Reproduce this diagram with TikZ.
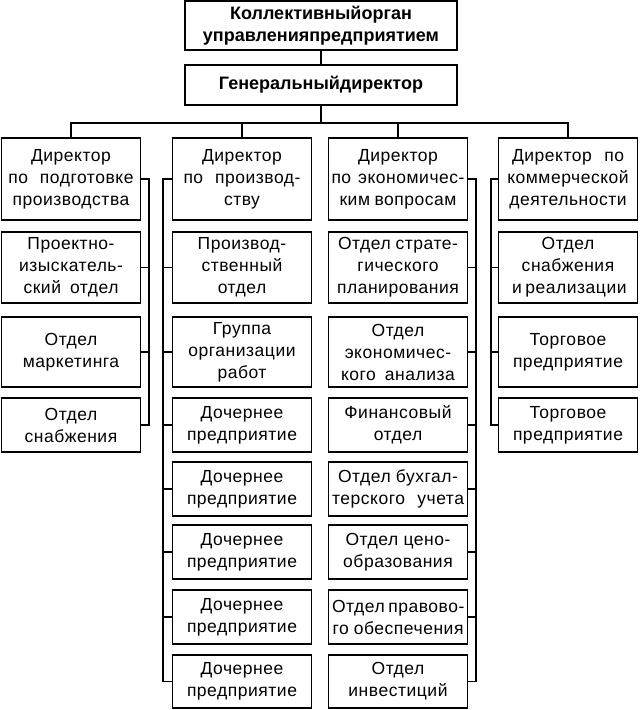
\documentclass[tikz,border=0pt]{standalone}
\usepackage{fontspec}
\setmainfont{Liberation Sans}
\newfontfamily\boxfont[LetterSpace=3]{Liberation Sans}
\usetikzlibrary{positioning,calc}

% stretched line, as in the justified boxes
\newcommand{\jline}[2][120pt]{\makebox[#1][s]{#2}}

\begin{document}
\begin{tikzpicture}[
        x=1pt, y=-1pt,
        font=\boxfont\fontsize{17.5}{22}\selectfont,
        box/.style={draw, rectangle, line width=1.6pt, minimum width=139pt, align=center, inner sep=1pt},
        headbox/.style={box, minimum width=272pt, font=\normalfont\fontsize{18}{22.5}\selectfont\bfseries},
        link/.style={line width=1.6pt, line cap=rect}
    ]
    \useasboundingbox (0,0) rectangle (640,710);

    % Top
    \node[headbox, minimum height=49pt] (board) at (321,25.5) {Коллективныйорган\\управленияпредприятием};
    \node[headbox, minimum height=40pt] (gendir) at (321,85) {Генеральныйдиректор};
    \coordinate (bus) at (0,123);

    % Directors
    \node[box, minimum height=82pt] (dpod) at (71,179) {Директор\\\jline[125pt]{по подготовке}\\производства};
    \node[box, minimum height=82pt] (dprz) at (242,179) {Директор\\\jline[117pt]{по производ-}\\ству};
    \node[box, minimum height=82pt] (deko) at (398,179) {Директор\\\jline[133pt]{по экономичес-}\\\jline[117pt]{ким вопросам}};
    \node[box, minimum height=82pt] (dcom) at (568,179) {\jline[112pt]{Директор по}\\коммерческой\\деятельности};

    % Column 1
    \node[box, minimum height=71pt] (proekt) at (71,267.5) {Проектно-\\изыскатель-\\\jline[95pt]{ский отдел}};
    \node[box, minimum height=70pt] (market) at (71,352) {Отдел\\маркетинга};
    \node[box, minimum height=54pt] (snabA) at (71,425) {Отдел\\снабжения};

    % Column 2
    \node[box, minimum height=71pt] (prodotd) at (242,267.5) {Производ-\\ственный\\отдел};
    \node[box, minimum height=70pt] (gruppa) at (242,352) {Группа\\организации\\работ};
    \node[box, minimum height=54pt] (dochA) at (242,425) {Дочернее\\предприятие};
    \node[box, minimum height=54pt] (dochB) at (242,489) {Дочернее\\предприятие};
    \node[box, minimum height=54pt] (dochC) at (242,552) {Дочернее\\предприятие};
    \node[box, minimum height=54pt] (dochD) at (242,617) {Дочернее\\предприятие};
    \node[box, minimum height=53pt] (dochE) at (242,681.5) {Дочернее\\предприятие};

    % Column 3
    \node[box, minimum height=71pt] (strat) at (398,267.5) {\jline[120pt]{Отдел страте-}\\гического\\планирования};
    \node[box, minimum height=70pt] (ekan) at (398,352) {Отдел\\экономичес-\\\jline[114pt]{кого анализа}};
    \node[box, minimum height=54pt] (finans) at (398,425) {Финансовый\\отдел};
    \node[box, minimum height=54pt] (buhg) at (398,489) {\jline[120pt]{Отдел бухгал-}\\\jline[132pt]{терского учета}};
    \node[box, minimum height=54pt] (ceno) at (398,552) {Отдел цено-\\образования};
    \node[box, minimum height=54pt] (pravo) at (398,617) {\jline[132pt]{Отдел правово-}\\\jline[131pt]{го обеспечения}};
    \node[box, minimum height=53pt] (invest) at (398,681.5) {Отдел\\инвестиций};

    % Column 4
    \node[box, minimum height=71pt] (snabreal) at (568,267.5) {Отдел\\снабжения\\\jline[112pt]{и реализации}};
    \node[box, minimum height=70pt] (torgA) at (568,352) {Торговое\\предприятие};
    \node[box, minimum height=54pt] (torgB) at (568,425) {Торговое\\предприятие};

    % Side buses
    \coordinate (busA) at (149,0);
    \coordinate (busB) at (163,0);
    \coordinate (busC) at (476,0);
    \coordinate (busD) at (491,0);

    % Top connections
    \draw[link] (board) -- (gendir);
    \draw[link] (gendir.south) -- (gendir.south |- bus);
    \draw[link] (dpod.north |- bus) -- (dcom.north |- bus);
    \foreach \d in {dpod,dprz,deko,dcom}
        \draw[link] (\d.north |- bus) -- (\d.north);

    % Column connections
    \draw[link] (dpod.east -| busA) -- (snabA.east -| busA);
    \foreach \n in {dpod,proekt,market,snabA}
        \draw[link] (\n.east) -- (\n.east -| busA);

    \draw[link] (dprz.west -| busB) -- (dochE.west -| busB);
    \foreach \n in {dprz,prodotd,gruppa,dochA,dochB,dochC,dochD,dochE}
        \draw[link] (\n.west) -- (\n.west -| busB);

    \draw[link] (deko.east -| busC) -- (invest.east -| busC);
    \foreach \n in {deko,strat,ekan,finans,buhg,ceno,pravo,invest}
        \draw[link] (\n.east) -- (\n.east -| busC);

    \draw[link] (dcom.west -| busD) -- (torgB.west -| busD);
    \foreach \n in {dcom,snabreal,torgA,torgB}
        \draw[link] (\n.west) -- (\n.west -| busD);

\end{tikzpicture}
\end{document}
